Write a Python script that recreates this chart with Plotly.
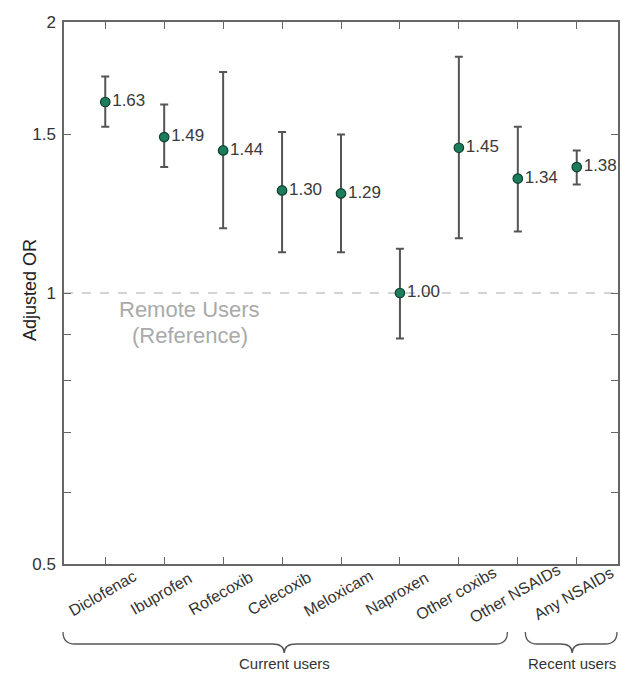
import plotly.graph_objects as go

categories = ["Diclofenac", "Ibuprofen", "Rofecoxib", "Celecoxib", "Meloxicam",
              "Naproxen", "Other coxibs", "Other NSAIDs", "Any NSAIDs"]
adjusted_or = [1.63, 1.49, 1.44, 1.30, 1.29, 1.00, 1.45, 1.34, 1.38]
ci_low = [1.53, 1.38, 1.18, 1.11, 1.11, 0.89, 1.15, 1.17, 1.32]
ci_high = [1.74, 1.62, 1.76, 1.51, 1.50, 1.12, 1.83, 1.53, 1.44]

y_tickvals = [0.5, 0.6, 0.7, 0.8, 0.9, 1, 1.5, 2]
y_ticktext = ["0.5", "", "", "", "", "1", "1.5", "2"]

groups = ["Current users", "Recent users"]

W, H = 622, 675
ML, MR, MT, MB = 64, 2, 22, 111
PW, PH = W - ML - MR, H - MT - MB


def px(x):
    return (x - ML) / PW


def py(y):
    return (H - MB - y) / PH


FONT = "Arial, Liberation Sans, sans-serif"

fig = go.Figure()
fig.add_trace(go.Scatter(
    x=categories, y=adjusted_or,
    mode="markers+text",
    text=[f"{v:.2f}" for v in adjusted_or],
    textposition="middle right",
    textfont=dict(family=FONT, size=17, color="#3a3a3a"),
    marker=dict(size=9.5, color="#1b7d5c", line=dict(color="#0f3f2f", width=1.2)),
    error_y=dict(type="data", symmetric=False,
                 array=[h - v for h, v in zip(ci_high, adjusted_or)],
                 arrayminus=[v - l for v, l in zip(adjusted_or, ci_low)],
                 color="#555555", thickness=2, width=4),
    cliponaxis=False,
    showlegend=False,
))

fig.add_shape(type="line", xref="paper", yref="y", x0=0, x1=1, y0=1, y1=1,
              line=dict(color="#aaaaaa", width=1.2, dash="dash"), layer="below")


def brace(x0, x1, xm, y0=632, yh=644, yp=653, r=12):
    pts = (f"M {px(x0)},{py(y0)} Q {px(x0)},{py(yh)} {px(x0 + r)},{py(yh)} "
           f"L {px(xm - r)},{py(yh)} Q {px(xm)},{py(yh)} {px(xm)},{py(yp)} "
           f"Q {px(xm)},{py(yh)} {px(xm + r)},{py(yh)} "
           f"L {px(x1 - r)},{py(yh)} Q {px(x1)},{py(yh)} {px(x1)},{py(y0)}")
    return pts


for path in [brace(63, 509, 285), brace(527, 619, 574)]:
    fig.add_shape(type="path", xref="paper", yref="paper", path=path,
                  line=dict(color="#555555", width=1.3))

annotations = []
for cat in categories:
    annotations.append(dict(x=cat, xref="x", y=0, yref="paper", text=cat,
                            showarrow=False, textangle=-30, xanchor="center",
                            yanchor="middle", xshift=-3, yshift=-29,
                            font=dict(family=FONT, size=16, color="#333333")))
for g, gx in zip(groups, [285, 574]):
    annotations.append(dict(x=px(gx), xref="paper", y=py(663), yref="paper", text=g,
                            showarrow=False, xanchor="center", yanchor="middle",
                            font=dict(family=FONT, size=15, color="#333333")))
annotations.append(dict(x=px(190), xref="paper", y=py(309), yref="paper",
                        text="Remote Users", showarrow=False,
                        xanchor="center", yanchor="middle",
                        font=dict(family=FONT, size=22, color="#aaaaaa")))
annotations.append(dict(x=px(190), xref="paper", y=py(335), yref="paper",
                        text="(Reference)", showarrow=False,
                        xanchor="center", yanchor="middle",
                        font=dict(family=FONT, size=22, color="#aaaaaa")))
annotations.append(dict(x=px(30), xref="paper", y=py(290), yref="paper",
                        text="Adjusted OR", showarrow=False, textangle=-90,
                        xanchor="center", yanchor="middle",
                        font=dict(family=FONT, size=18, color="#222222")))

fig.update_layout(
    width=W, height=H,
    margin=dict(l=ML, r=MR, t=MT, b=MB, pad=0),
    plot_bgcolor="white", paper_bgcolor="white",
    font=dict(family=FONT, color="#333333"),
    annotations=annotations,
    xaxis=dict(type="category", range=[-0.7, 8.7], showgrid=False, zeroline=False,
               showline=True, linecolor="#666666", linewidth=1.5, mirror="ticks",
               ticks="inside", ticklen=7, tickcolor="#666666", tickwidth=1.2,
               showticklabels=False),
    yaxis=dict(type="log", range=[-0.30103, 0.30103], showgrid=False, zeroline=False,
               showline=True, linecolor="#666666", linewidth=1.5, mirror="ticks",
               ticks="inside", ticklen=7, tickcolor="#666666", tickwidth=1.2,
               tickmode="array", tickvals=y_tickvals, ticktext=y_ticktext,
               ticklabelstandoff=3,
               tickfont=dict(family=FONT, size=17, color="#333333")),
)

fig.write_html("out.html",
               config={"displayModeBar": False},
               post_script="document.body.style.margin='0';"
                           "document.body.style.overflow='hidden';")
